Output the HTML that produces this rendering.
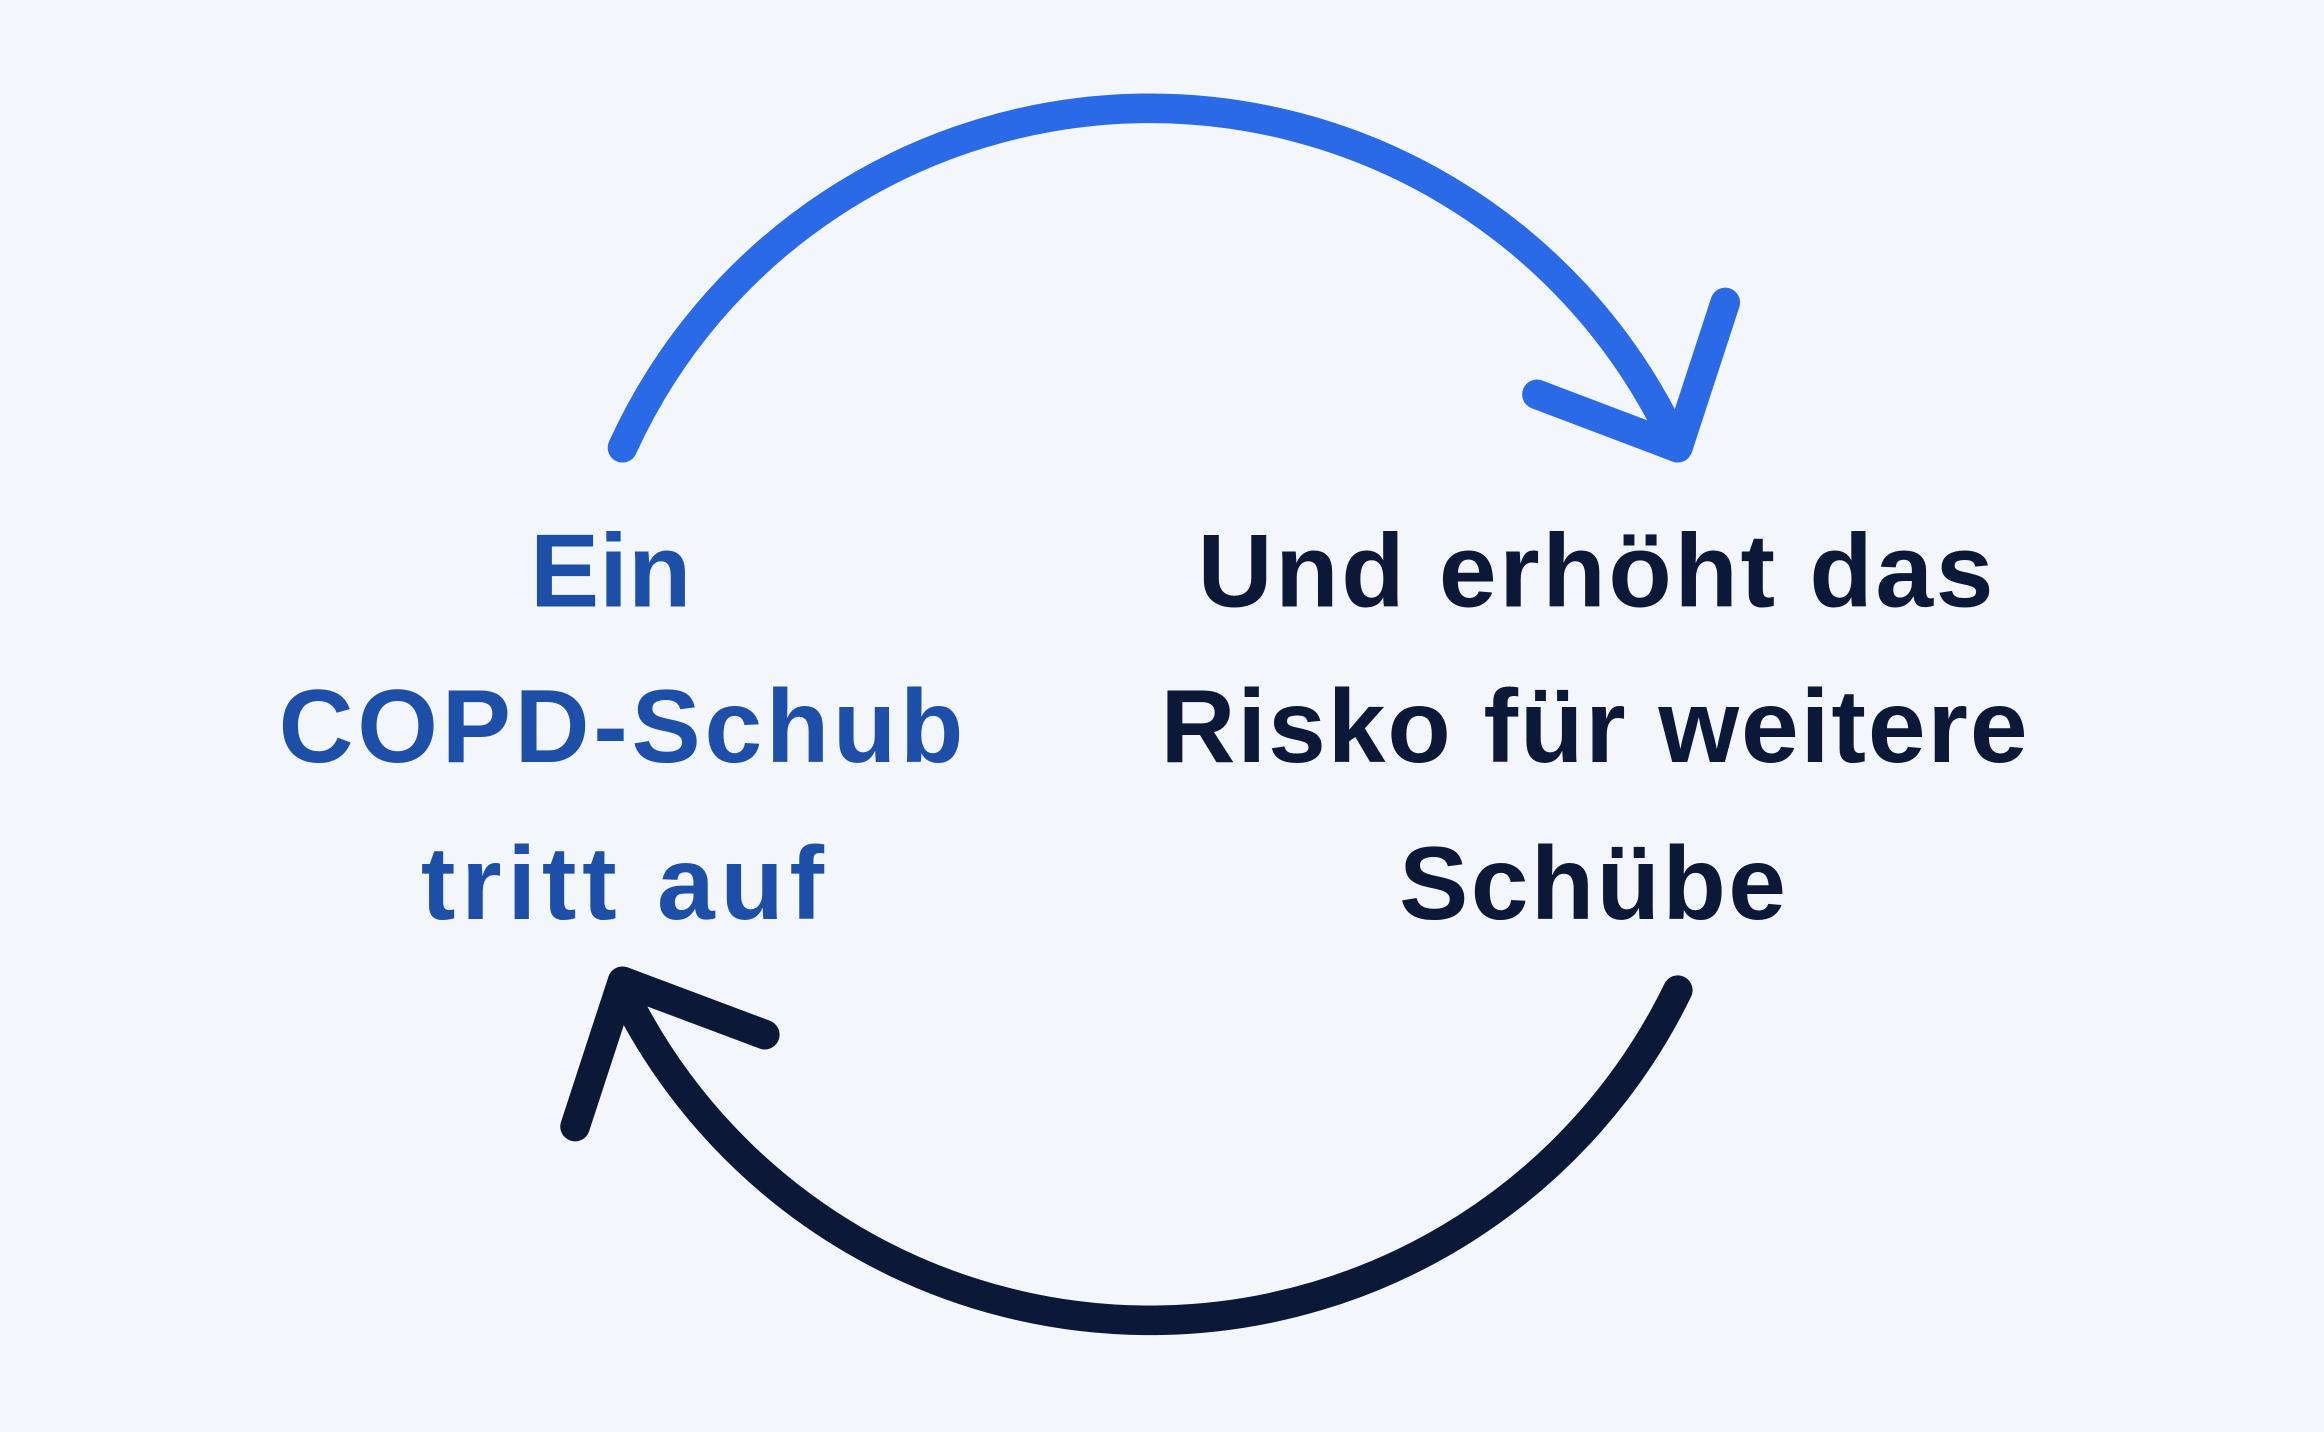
<!DOCTYPE html>
<html>
<head>
<meta charset="utf-8">
<style>
html,body{margin:0;padding:0;background:#f3f7fc;}
svg{display:block;}
text{font-family:"Liberation Sans","DejaVu Sans",sans-serif;font-weight:bold;font-size:70px;}
</style>
</head>
<body>
<svg width="2324" height="1432" viewBox="0 0 1568 966" xmlns="http://www.w3.org/2000/svg">
<rect width="1568" height="966" fill="#f3f7fc"/>
<!-- top arc -->
<path d="M420,302 A391,391 0 0 1 1124,286" fill="none" stroke="#2b6ae6" stroke-width="20" stroke-linecap="round"/>
<path d="M1037,266 L1132,302 L1164,204" fill="none" stroke="#2b6ae6" stroke-width="20" stroke-linecap="round" stroke-linejoin="round"/>
<!-- bottom arc -->
<path d="M1132,668 A396,396 0 0 1 427,682" fill="none" stroke="#0b1838" stroke-width="20" stroke-linecap="round"/>
<path d="M516,698 L420,662 L388,760" fill="none" stroke="#0b1838" stroke-width="20" stroke-linecap="round" stroke-linejoin="round"/>
<!-- left text -->
<g fill="#1d4fa8">
<text x="412" y="409" text-anchor="middle">Ein</text>
<text x="188" y="514" textLength="462" lengthAdjust="spacing">COPD-Schub</text>
<text x="284" y="620" textLength="272" lengthAdjust="spacing">tritt auf</text>
</g>
<!-- right text -->
<g fill="#0b1838">
<text x="808" y="409" textLength="537" lengthAdjust="spacing">Und erhöht das</text>
<text x="783" y="514" textLength="585" lengthAdjust="spacing">Risko für weitere</text>
<text x="944" y="620" textLength="261" lengthAdjust="spacing">Schübe</text>
</g>
</svg>
</body>
</html>
